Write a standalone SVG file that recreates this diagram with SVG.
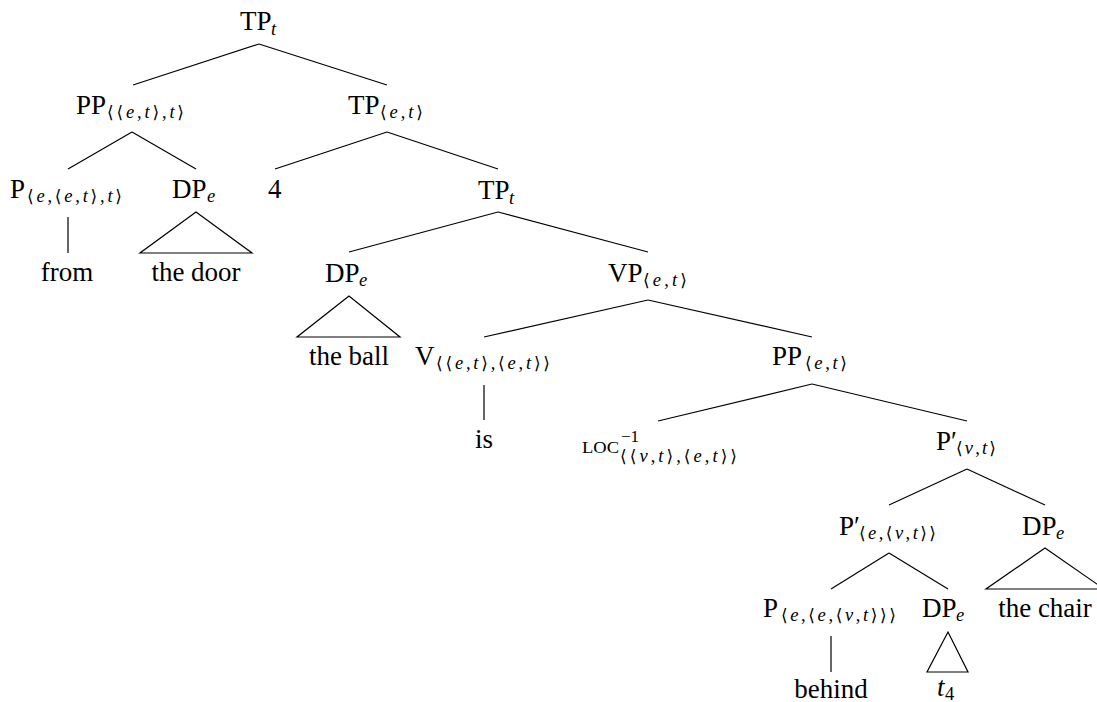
<svg xmlns="http://www.w3.org/2000/svg" width="1097" height="702" viewBox="0 0 1097 702">
<style>
text{font-family:"Liberation Serif","Times New Roman",Times,serif;fill:#000}
.m{font-size:27px}
.s{font-size:18.5px}
.i{font-style:italic}
.b{font-family:"DejaVu Serif","DejaVu Sans",serif;font-size:17px}
.c{text-anchor:middle}
.e line,.e polygon{stroke:#000;stroke-width:1.2;fill:none}
</style>
<rect width="1097" height="702" fill="#fff"/>
<g class="e" id="connectors">
<line x1="259" y1="44" x2="133" y2="85"/>
<line x1="259" y1="44" x2="387" y2="85"/>
<line x1="132" y1="132" x2="68" y2="169"/>
<line x1="132" y1="132" x2="196" y2="169"/>
<line x1="387" y1="132" x2="275" y2="169"/>
<line x1="387" y1="132" x2="498" y2="169"/>
<line x1="68" y1="217" x2="68" y2="253"/>
<polygon points="196,212 140,253 252,253"/>
<line x1="498" y1="212" x2="349" y2="252"/>
<line x1="498" y1="212" x2="648" y2="252"/>
<polygon points="349,296 297,337 400,337"/>
<line x1="648" y1="300" x2="484" y2="337"/>
<line x1="648" y1="300" x2="812" y2="337"/>
<line x1="484" y1="385" x2="484" y2="420"/>
<line x1="812" y1="384" x2="658" y2="421"/>
<line x1="812" y1="384" x2="967" y2="421"/>
<line x1="967" y1="469" x2="889" y2="505"/>
<line x1="967" y1="469" x2="1045" y2="505"/>
<line x1="889" y1="553" x2="831" y2="589"/>
<line x1="889" y1="553" x2="948" y2="589"/>
<polygon points="1045,548 986,589 1104,589"/>
<line x1="831" y1="636" x2="831" y2="672"/>
<polygon points="948,632 927,672 968,672"/>
</g>
<g id="n-root"><text class="m" x="240" y="30">TP</text><text class="s i" x="271" y="35">t</text></g>
<g id="n-pp1"><text class="m" x="76" y="114">PP</text><text class="s" x="107" y="118" textLength="77" lengthAdjust="spacing"><tspan class="b">⟨⟨</tspan><tspan class="i">e</tspan>,<tspan class="i">t</tspan><tspan class="b">⟩</tspan>,<tspan class="i">t</tspan><tspan class="b">⟩</tspan></text></g>
<g id="n-tp2"><text class="m" x="348" y="114">TP</text><text class="s" x="380" y="118" textLength="43" lengthAdjust="spacing"><tspan class="b">⟨</tspan><tspan class="i">e</tspan>,<tspan class="i">t</tspan><tspan class="b">⟩</tspan></text></g>
<g id="n-p1"><text class="m" x="10" y="198">P</text><text class="s" x="27" y="202" textLength="95" lengthAdjust="spacing"><tspan class="b">⟨</tspan><tspan class="i">e</tspan>,<tspan class="b">⟨</tspan><tspan class="i">e</tspan>,<tspan class="i">t</tspan><tspan class="b">⟩</tspan>,<tspan class="i">t</tspan><tspan class="b">⟩</tspan></text></g>
<g id="n-dp1"><text class="m" x="172" y="198">DP</text><text class="s i" x="207" y="202">e</text></g>
<g id="n-4"><text class="m" x="268" y="198">4</text></g>
<g id="n-from"><text class="m c" x="67" y="281">from</text></g>
<g id="n-thedoor"><text class="m c" x="196" y="281">the door</text></g>
<g id="n-tp3"><text class="m" x="478" y="199">TP</text><text class="s i" x="509" y="204">t</text></g>
<g id="n-dp2"><text class="m" x="325" y="282">DP</text><text class="s i" x="359" y="286">e</text></g>
<g id="n-theball"><text class="m c" x="349" y="365">the ball</text></g>
<g id="n-vp"><text class="m" x="608" y="282">VP</text><text class="s" x="643" y="286" textLength="44" lengthAdjust="spacing"><tspan class="b">⟨</tspan><tspan class="i">e</tspan>,<tspan class="i">t</tspan><tspan class="b">⟩</tspan></text></g>
<g id="n-v"><text class="m" x="415" y="365">V</text><text class="s" x="436" y="369" textLength="114" lengthAdjust="spacing"><tspan class="b">⟨⟨</tspan><tspan class="i">e</tspan>,<tspan class="i">t</tspan><tspan class="b">⟩</tspan>,<tspan class="b">⟨</tspan><tspan class="i">e</tspan>,<tspan class="i">t</tspan><tspan class="b">⟩⟩</tspan></text></g>
<g id="n-is"><text class="m c" x="484" y="448">is</text></g>
<g id="n-pp2"><text class="m" x="772" y="365">PP</text><text class="s" x="805" y="369" textLength="42" lengthAdjust="spacing"><tspan class="b">⟨</tspan><tspan class="i">e</tspan>,<tspan class="i">t</tspan><tspan class="b">⟩</tspan></text></g>
<g id="n-loc"><text x="582" y="453" style="font-size:17px" textLength="37" lengthAdjust="spacingAndGlyphs">LOC</text><text x="621" y="442" style="font-size:17px">−1</text><text class="s" x="620" y="462" textLength="117" lengthAdjust="spacing"><tspan class="b">⟨⟨</tspan><tspan class="i">v</tspan>,<tspan class="i">t</tspan><tspan class="b">⟩</tspan>,<tspan class="b">⟨</tspan><tspan class="i">e</tspan>,<tspan class="i">t</tspan><tspan class="b">⟩⟩</tspan></text></g>
<g id="n-pbar1"><text class="m" x="936" y="450">P′</text><text class="s" x="956" y="454" textLength="40" lengthAdjust="spacing"><tspan class="b">⟨</tspan><tspan class="i">v</tspan>,<tspan class="i">t</tspan><tspan class="b">⟩</tspan></text></g>
<g id="n-pbar2"><text class="m" x="839" y="535">P′</text><text class="s" x="859" y="539" textLength="77" lengthAdjust="spacing"><tspan class="b">⟨</tspan><tspan class="i">e</tspan>,<tspan class="b">⟨</tspan><tspan class="i">v</tspan>,<tspan class="i">t</tspan><tspan class="b">⟩⟩</tspan></text></g>
<g id="n-dp3"><text class="m" x="1022" y="535">DP</text><text class="s i" x="1056" y="539">e</text></g>
<g id="n-thechair"><text class="m c" x="1045" y="617">the chair</text></g>
<g id="n-p2"><text class="m" x="763" y="617">P</text><text class="s" x="781" y="621" textLength="115" lengthAdjust="spacing"><tspan class="b">⟨</tspan><tspan class="i">e</tspan>,<tspan class="b">⟨</tspan><tspan class="i">e</tspan>,<tspan class="b">⟨</tspan><tspan class="i">v</tspan>,<tspan class="i">t</tspan><tspan class="b">⟩⟩⟩</tspan></text></g>
<g id="n-behind"><text class="m c" x="831" y="698">behind</text></g>
<g id="n-dp4"><text class="m" x="922" y="617">DP</text><text class="s i" x="956" y="621">e</text></g>
<g id="n-t4"><text class="m i" x="937" y="696">t</text><text class="s" x="945" y="700">4</text></g>
</svg>
